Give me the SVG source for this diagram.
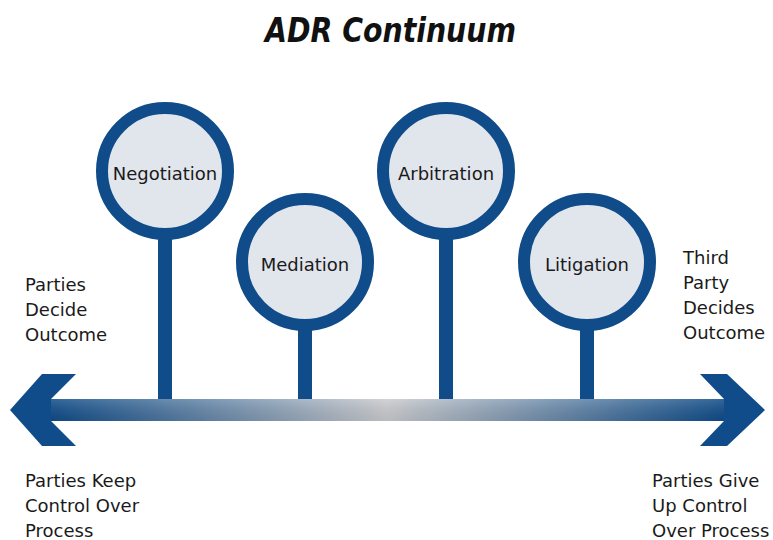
<svg xmlns="http://www.w3.org/2000/svg" width="773" height="540" viewBox="0 0 773 540">
  <style>
    .ring { fill: #e1e5ec; stroke: #0f4c89; stroke-width: 12; }
    .stem { fill: #0f4c89; }
    .lbl { font-family: "DejaVu Sans", Verdana, sans-serif; font-size: 18px; fill: #1a1a1a; }
    .node { font-family: "DejaVu Sans", Verdana, sans-serif; font-size: 18px; fill: #1a1a1a; text-anchor: middle; }
    .title { font-family: "DejaVu Sans", Verdana, sans-serif; font-size: 33px; font-style: italic; font-weight: bold; fill: #111; }
  </style>
  <defs>
    <linearGradient id="shaft" gradientUnits="userSpaceOnUse" x1="50" y1="0" x2="724" y2="0">
      <stop offset="0" stop-color="#0f4c89"/>
      <stop offset="0.5" stop-color="#cbcccf"/>
      <stop offset="1" stop-color="#0f4c89"/>
    </linearGradient>
    <linearGradient id="shade" x1="0" y1="0" x2="0" y2="1">
      <stop offset="0" stop-color="#ffffff" stop-opacity="0.15"/>
      <stop offset="1" stop-color="#000000" stop-opacity="0.08"/>
    </linearGradient>
  </defs>
  <rect width="773" height="540" fill="#ffffff"/>
  <text class="title" x="265" y="42" textLength="251" lengthAdjust="spacingAndGlyphs">ADR Continuum</text>

  <g id="connectors">
    <rect class="stem" x="158" y="230" width="14" height="171"/>
    <rect class="stem" x="298" y="320" width="14" height="81"/>
    <rect class="stem" x="439" y="230" width="14" height="171"/>
    <rect class="stem" x="580" y="320" width="14" height="81"/>
    <rect x="49" y="399" width="676" height="22" fill="url(#shaft)"/>
    <rect x="49" y="399" width="676" height="22" fill="url(#shade)"/>
    <polygon fill="#0f4c89" points="10,410 42,374 76,374 51,399 51,421 76,446 42,446"/>
    <polygon fill="#0f4c89" points="765,410 727,374 700,374 724,399 724,421 700,446 727,446"/>
  </g>

  <g id="negotiation">
    <circle class="ring" cx="165" cy="171" r="63"/>
    <text class="node" x="165" y="180">Negotiation</text>
  </g>
  <g id="mediation">
    <circle class="ring" cx="305" cy="262" r="63"/>
    <text class="node" x="305" y="271">Mediation</text>
  </g>
  <g id="arbitration">
    <circle class="ring" cx="446" cy="171" r="63"/>
    <text class="node" x="446" y="180">Arbitration</text>
  </g>
  <g id="litigation">
    <circle class="ring" cx="587" cy="262" r="63"/>
    <text class="node" x="587" y="271">Litigation</text>
  </g>

  <g id="label-left-top">
    <text class="lbl" x="25" y="291">Parties</text>
    <text class="lbl" x="25" y="316">Decide</text>
    <text class="lbl" x="25" y="341">Outcome</text>
  </g>
  <g id="label-right-top">
    <text class="lbl" x="683" y="264">Third</text>
    <text class="lbl" x="683" y="289">Party</text>
    <text class="lbl" x="683" y="314">Decides</text>
    <text class="lbl" x="683" y="339">Outcome</text>
  </g>
  <g id="label-left-bottom">
    <text class="lbl" x="25" y="487">Parties Keep</text>
    <text class="lbl" x="25" y="512">Control Over</text>
    <text class="lbl" x="25" y="537">Process</text>
  </g>
  <g id="label-right-bottom">
    <text class="lbl" x="652" y="487">Parties Give</text>
    <text class="lbl" x="652" y="512">Up Control</text>
    <text class="lbl" x="652" y="537">Over Process</text>
  </g>
</svg>
